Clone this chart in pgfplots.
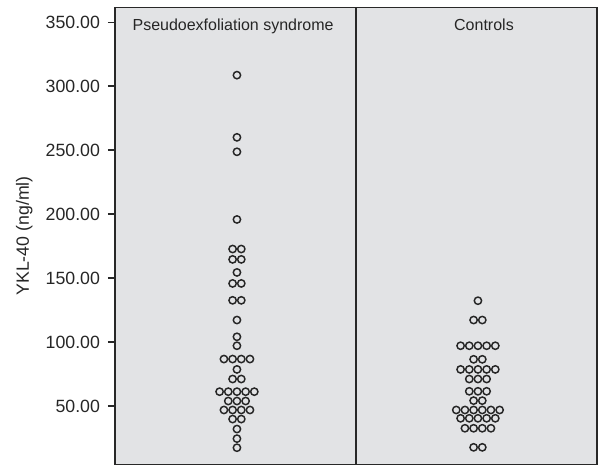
\documentclass[border=0pt]{standalone}
\usepackage{fontspec}
\setmainfont{Liberation Sans}
\usepackage{pgfplots}
\pgfplotsset{compat=1.18}
\usepackage{pgfplotstable}

\definecolor{panelbg}{RGB}{226,227,229}
\definecolor{frame}{RGB}{40,40,40}

% dot positions: x = panel centre +- half-steps, y = YKL-40 value
\pgfplotstableread{
x y
1.006 308.6
1.006 260.0
1.006 248.7
1.006 195.8
0.988 172.7
1.024 172.7
0.988 164.6
1.024 164.6
1.006 154.4
0.988 145.8
1.024 145.8
0.988 132.6
1.024 132.6
1.006 117.2
1.006 104.1
1.006 97.1
0.952 86.7
0.988 86.7
1.024 86.7
1.060 86.7
1.006 78.6
0.988 71.1
1.024 71.1
0.934 61.2
0.970 61.2
1.006 61.2
1.042 61.2
1.078 61.2
0.970 53.9
1.006 53.9
1.042 53.9
0.952 46.9
0.988 46.9
1.024 46.9
1.060 46.9
0.988 39.8
1.024 39.8
1.006 32.0
1.006 24.5
1.006 17.4
}\pex

\pgfplotstableread{
x y
2.006 132.3
1.988 117.2
2.024 117.2
1.934 97.1
1.970 97.1
2.006 97.1
2.042 97.1
2.078 97.1
1.988 86.5
2.024 86.5
1.934 78.6
1.970 78.6
2.006 78.6
2.042 78.6
2.078 78.6
1.970 71.1
2.006 71.1
2.042 71.1
1.970 61.5
2.006 61.5
2.042 61.5
1.988 54.2
2.024 54.2
1.916 46.9
1.952 46.9
1.988 46.9
2.024 46.9
2.060 46.9
2.096 46.9
1.934 40.4
1.970 40.4
2.006 40.4
2.042 40.4
2.078 40.4
1.952 32.6
1.988 32.6
2.024 32.6
2.060 32.6
1.988 17.7
2.024 17.7
}\ctrl

\begin{document}
\begin{tikzpicture}
\begin{axis}[
  name=ax,
  scale only axis,
  width=361.5pt, height=342.75pt,
  xmin=0.5, xmax=2.5,
  ymin=4.3, ymax=361.5,
  xtick=\empty,
  ytick={50,100,...,350},
  yticklabel style={/pgf/number format/fixed,
    /pgf/number format/fixed zerofill,
    /pgf/number format/precision=2,
    /pgf/number format/assume math mode=true,
    font=\fontsize{13.3}{15}\selectfont, text=black!85, xshift=-2.5pt},
  tick align=outside,
  major tick length=5.25pt,
  tick style={line width=1pt, color=frame},
  axis line style={line width=1.1pt, color=frame},
  axis background/.style={fill=panelbg},
  ylabel={YKL-40 (ng/ml)},
  ylabel style={at={(rel axis cs:-0.188,0.5)}, anchor=center,
    font=\fontsize{13.3}{15}\selectfont, text=black!85},
  clip=false,
]
\addplot[only marks, mark=o, mark size=2.75pt, black!85,
  mark options={line width=1.1pt}] table[x=x, y=y] {\pex};
\addplot[only marks, mark=o, mark size=2.75pt, black!85,
  mark options={line width=1.1pt}] table[x=x, y=y] {\ctrl};

\draw[line width=1.1pt, frame] (axis cs:1.5,4.3) -- (axis cs:1.5,361.5);

\node[anchor=base, font=\fontsize{12}{14}\selectfont, text=black!85]
  at (axis cs:0.99,343.5) {Pseudoexfoliation syndrome};
\node[anchor=base, font=\fontsize{12}{14}\selectfont, text=black!85]
  at (axis cs:2.031,343.5) {Controls};
\end{axis}
\pgfresetboundingbox
\path[use as bounding box] ([shift={(-86.25pt,-1.1pt)}]ax.south west)
  rectangle ([shift={(0.75pt,5.6pt)}]ax.north east);
\end{tikzpicture}
\end{document}
